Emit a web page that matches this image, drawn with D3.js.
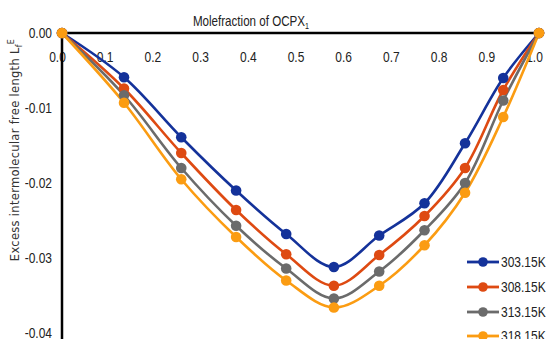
<!DOCTYPE html>
<html><head><meta charset="utf-8">
<script src="https://cdn.jsdelivr.net/npm/d3@7"></script>
<style>
body{margin:0;background:#fff;}
svg{display:block;}
.nar{font-family:"Liberation Sans",Arial,sans-serif;}
</style></head>
<body>
<svg id="c" width="546" height="339"></svg>
<script>
const xValues = [0, 0.13, 0.25, 0.365, 0.47, 0.57, 0.665, 0.76, 0.845, 0.925, 1.0];
const seriesNames = ["303.15K", "308.15K", "313.15K", "318.15K"];
const s303 = [0, -0.0059, -0.0139, -0.0210, -0.0268, -0.0312, -0.0270, -0.0227, -0.0147, -0.0060, 0];
const s308 = [0, -0.0074, -0.0160, -0.0236, -0.0295, -0.0337, -0.0296, -0.0244, -0.0180, -0.0076, 0];
const s313 = [0, -0.0083, -0.0180, -0.0257, -0.0314, -0.0354, -0.0318, -0.0263, -0.0200, -0.0090, 0];
const s318 = [0, -0.0093, -0.0195, -0.0272, -0.0330, -0.0366, -0.0337, -0.0283, -0.0213, -0.0112, 0];
const xTicks = [0,0.1,0.2,0.3,0.4,0.5,0.6,0.7,0.8,0.9,1.0];
const yTicks = [0,-0.01,-0.02,-0.03,-0.04];
const colors = ["#14329a","#de4a12","#6b6b6b","#fb9c12"];

const series = [s303, s308, s313, s318];
const svg = d3.select("#c");
const x = d3.scaleLinear().domain([0,1]).range([62,539]);
const y = d3.scaleLinear().domain([-0.04,0]).range([333,33]);
const hy = f => d => f(d).replace("\u2212","-");

function narrow(sel, k){
  sel.each(function(){
    const w = this.getComputedTextLength();
    d3.select(this).attr("textLength", w*k).attr("lengthAdjust","spacingAndGlyphs");
  });
}

// Axes
const xAxis = d3.axisTop(x).tickValues(xTicks).tickSize(0).tickFormat(hy(d3.format(".1f")));
const gx = svg.append("g").attr("transform","translate(0,33)").call(xAxis);
gx.select(".domain").remove();
gx.selectAll("text").attr("class","nar").attr("font-size",15).attr("fill","#222")
  .attr("dy",0).attr("y",29).attr("dx",-5).call(narrow,0.8);

const yAxis = d3.axisLeft(y).tickValues(yTicks).tickSize(0).tickFormat(hy(d3.format(".2f")));
const gy = svg.append("g").attr("transform","translate(62,0)").call(yAxis);
gy.select(".domain").remove();
gy.selectAll("text").attr("class","nar").attr("font-size",15).attr("fill","#222").attr("x",-10).call(narrow,0.8);

// axis lines
svg.append("line").attr("x1",x(0)).attr("x2",x(1)).attr("y1",y(0)).attr("y2",y(0))
  .attr("stroke","#000").attr("stroke-width",2.5);
svg.append("line").attr("x1",x(0)).attr("x2",x(0)).attr("y1",y(0)).attr("y2",339)
  .attr("stroke","#000").attr("stroke-width",2.5);

// titles
const t = svg.append("text").attr("class","nar").attr("x",251).attr("y",26)
  .attr("text-anchor","middle").attr("font-size",14.5).attr("fill","#222");
t.append("tspan").text("Molefraction of OCPX");
t.append("tspan").attr("font-size",9).attr("dy",3).text("1");
t.call(narrow,0.8);

const yt = svg.append("text").attr("transform","translate(19,150) rotate(-90)")
  .attr("text-anchor","middle").attr("font-family","DejaVu Sans, sans-serif")
  .attr("font-size",11.5).attr("fill","#333").attr("letter-spacing",0.3);
yt.append("tspan").text("Excess intermolecular free length L");
yt.append("tspan").attr("font-size",8).attr("dy",3).text("f");
yt.append("tspan").attr("font-size",8).attr("dy",-8).text("E");

// lines
const line = d3.line().x((d,i)=>x(xValues[i])).y(d=>y(d)).curve(d3.curveCatmullRom.alpha(0.5));
series.forEach((s,k)=>{
  svg.append("path").attr("d",line(s)).attr("fill","none")
    .attr("stroke",colors[k]).attr("stroke-width",2.6);
});
series.forEach((s,k)=>{
  svg.append("g").selectAll("circle").data(s).join("circle")
    .attr("cx",(d,i)=>x(xValues[i])).attr("cy",d=>y(d)).attr("r",5.3)
    .attr("fill",colors[k]);
});

// legend
const legY = [262,287,312,336];
seriesNames.forEach((n,k)=>{
  const g = svg.append("g");
  g.append("line").attr("x1",467).attr("x2",499).attr("y1",legY[k]).attr("y2",legY[k])
    .attr("stroke",colors[k]).attr("stroke-width",2.8);
  g.append("circle").attr("cx",483).attr("cy",legY[k]).attr("r",4.8).attr("fill",colors[k]);
  g.append("text").attr("class","nar").attr("x",501).attr("y",legY[k]+5)
    .attr("font-size",15).attr("fill","#222").text(n).call(narrow,0.8);
});
</script>
</body></html>
